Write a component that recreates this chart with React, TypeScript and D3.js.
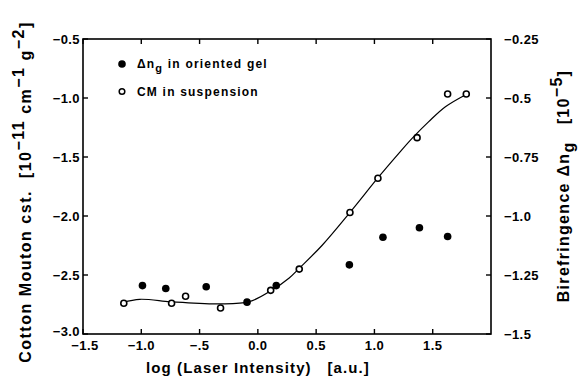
import React from "react";
import * as d3 from "d3";

// Open circles: Cotton-Mouton constant in suspension (left axis)
const cmX = [-1.15, -0.74, -0.62, -0.32, 0.11, 0.355, 0.79, 1.03, 1.366, 1.628, 1.788];
const cmY = [-2.74, -2.74, -2.68, -2.78, -2.63, -2.45, -1.97, -1.68, -1.336, -0.966, -0.966];

// Filled circles: birefringence in oriented gel (right axis)
const gelX = [-0.99, -0.79, -0.443, -0.093, 0.158, 0.785, 1.073, 1.386, 1.628];
const gelY = [-1.295, -1.307, -1.30, -1.365, -1.295, -1.207, -1.09, -1.05, -1.087];

// Fitted curve through CM data (left axis)
const fitX = [-1.156, -1.013, -0.756, -0.55, -0.329, -0.073, 0.113, 0.269, 0.355, 0.55, 0.791, 1.038, 1.209, 1.323, 1.466, 1.609, 1.779];
const fitY = [-2.731, -2.706, -2.726, -2.738, -2.745, -2.726, -2.633, -2.525, -2.443, -2.25, -1.969, -1.667, -1.469, -1.342, -1.2, -1.074, -0.974];

const xTicks = [-1.5, -1.0, -0.5, 0.0, 0.5, 1.0, 1.5];
const xTickLabels = ["−1.5", "−1.0", "−.5", "0.0", "0.5", "1.0", "1.5"];
const yTicks = [-0.5, -1.0, -1.5, -2.0, -2.5, -3.0];
const yTickLabels = ["−0.5", "−1.0", "−1.5", "−2.0", "−2.5", "−3.0"];
const y2Ticks = [-0.25, -0.5, -0.75, -1.0, -1.25, -1.5];
const y2TickLabels = ["−0.25", "−0.5", "−0.75", "−1.0", "−1.25", "−1.5"];

const W = 580;
const H = 382;
const L = 83, R = 491, T = 39, B = 334;
const FONT = "Liberation Sans, Arial, sans-serif";

export default function App() {
  const x = d3.scaleLinear().domain([-1.5, 2.0]).range([L, R]);
  const y = d3.scaleLinear().domain([-3.0, -0.5]).range([B, T]);
  const y2 = d3.scaleLinear().domain([-1.5, -0.25]).range([B, T]);
  const line = d3
    .line<number>()
    .x((_, i) => x(fitX[i]))
    .y((d) => y(d))
    .curve(d3.curveCatmullRom.alpha(0.5));
  const tl = 5;
  const tickFont = { fontFamily: FONT, fontSize: 13, fontWeight: 700 as any, fill: "#000", letterSpacing: 0.4 };
  return (
    <svg width={W} height={H} style={{ position: "absolute", left: 0, top: 0, background: "#fff" }}>
      <rect x={0} y={0} width={W} height={H} fill="#fff" />
      <rect x={L} y={T} width={R - L} height={B - T} fill="none" stroke="#000" strokeWidth={1.6} />
      {xTicks.map((t, i) => (
        <g key={"x" + i}>
          <line x1={x(t)} x2={x(t)} y1={B} y2={B - tl} stroke="#000" strokeWidth={1.4} />
          <line x1={x(t)} x2={x(t)} y1={T} y2={T + tl} stroke="#000" strokeWidth={1.4} />
          <text x={x(t) + (i === 0 ? 2 : 0)} y={B + 16} textAnchor="middle" {...tickFont}>
            {xTickLabels[i]}
          </text>
        </g>
      ))}
      {yTicks.map((t, i) => (
        <g key={"y" + i}>
          <line x1={L} x2={L + tl} y1={y(t)} y2={y(t)} stroke="#000" strokeWidth={1.4} />
          <text x={L - 3} y={y(t) + (i === yTicks.length - 1 ? 1.5 : 4.5)} textAnchor="end" {...tickFont}>
            {yTickLabels[i]}
          </text>
        </g>
      ))}
      {y2Ticks.map((t, i) => (
        <g key={"y2" + i}>
          <line x1={R} x2={R - tl} y1={y2(t)} y2={y2(t)} stroke="#000" strokeWidth={1.4} />
          <text x={R + 13} y={y2(t) + 4.5} textAnchor="start" {...tickFont}>
            {y2TickLabels[i]}
          </text>
        </g>
      ))}
      <path d={line(fitY) || ""} fill="none" stroke="#000" strokeWidth={1.2} />
      {gelX.map((v, i) => (
        <circle key={"g" + i} cx={x(v)} cy={y2(gelY[i])} r={3.8} fill="#000" />
      ))}
      {cmX.map((v, i) => (
        <circle key={"c" + i} cx={x(v)} cy={y(cmY[i])} r={3} fill="#fff" stroke="#000" strokeWidth={1.6} />
      ))}
      {/* legend */}
      <circle cx={122} cy={64} r={3.8} fill="#000" />
      <text x={137} y={68} fontFamily={FONT} fontSize={12} fontWeight={700} letterSpacing={1.2} xmlSpace="preserve">
        Δn<tspan dy={4} fontSize={11}>g</tspan>
        <tspan dy={-4}> in oriented gel</tspan>
      </text>
      <circle cx={122} cy={91.5} r={2.8} fill="#fff" stroke="#000" strokeWidth={1.5} />
      <text x={137} y={96} fontFamily={FONT} fontSize={12} fontWeight={700} letterSpacing={1.2}>
        CM in suspension
      </text>
      {/* x title */}
      <text x={258} y={373} textAnchor="middle" fontFamily={FONT} fontSize={15} fontWeight={700} letterSpacing={1.1} xmlSpace="preserve">
        {"log (Laser Intensity)   [a.u.]"}
      </text>
      {/* left title */}
      <text
        transform={`translate(31,192) rotate(-90)`}
        textAnchor="middle"
        fontFamily={FONT}
        fontSize={16}
        fontWeight={700}
        letterSpacing={1.5}
        xmlSpace="preserve"
      >
        {"Cotton Mouton cst.  [10"}
        <tspan dy={-7}>{"−11"}</tspan>
        <tspan dy={7}>{" cm"}</tspan>
        <tspan dy={-7}>{"−1"}</tspan>
        <tspan dy={7}>{" g"}</tspan>
        <tspan dy={-7}>{"−2"}</tspan>
        <tspan dy={7}>{"]"}</tspan>
      </text>
      {/* right title */}
      <text
        transform={`translate(569,186) rotate(-90)`}
        textAnchor="middle"
        fontFamily={FONT}
        fontSize={16}
        fontWeight={700}
        letterSpacing={1.3}
        xmlSpace="preserve"
      >
        {"Birefringence Δn"}
        <tspan dy={5}>g</tspan>
        <tspan dy={-5}>{"   [10"}</tspan>
        <tspan dy={-7}>{"−5"}</tspan>
        <tspan dy={7}>{"]"}</tspan>
      </text>
    </svg>
  );
}
